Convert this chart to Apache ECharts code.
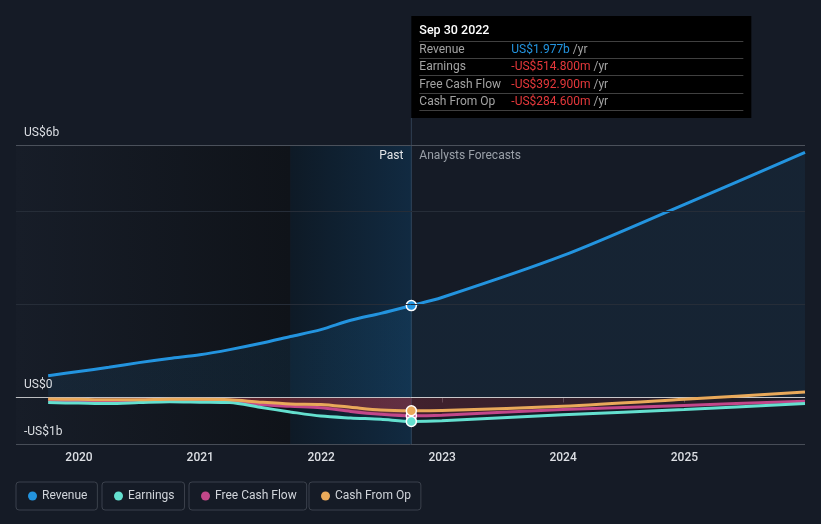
<!DOCTYPE html>
<html><head><meta charset="utf-8">
<script src="https://cdn.jsdelivr.net/npm/echarts@6/dist/echarts.min.js"></script>
<style>html,body{margin:0;padding:0;background:#151b26;}#c{width:821px;height:524px;}</style>
</head><body><div id="c"></div>
<script>
// ---------- data (US$ billions) ----------
const pastDates = ['2019-09-30','2019-12-31','2020-03-31','2020-06-30','2020-09-30','2020-12-31','2021-03-31','2021-06-30','2021-09-30','2021-12-31','2022-03-31','2022-06-30','2022-09-30'];
const forecastDates = ['2022-12-31','2023-12-31','2024-12-31','2025-12-31'];
const revenuePast = [0.47,0.56,0.65,0.75,0.84,0.92,1.03,1.16,1.31,1.46,1.66,1.81,1.977];
const revenueForecast = [2.15,3.05,4.15,5.27];
const earningsPast = [-0.11,-0.12,-0.13,-0.11,-0.09,-0.10,-0.11,-0.21,-0.31,-0.40,-0.44,-0.47,-0.5148];
const earningsForecast = [-0.50,-0.37,-0.26,-0.13];
const fcfPast = [-0.06,-0.07,-0.07,-0.06,-0.05,-0.07,-0.08,-0.15,-0.19,-0.22,-0.30,-0.36,-0.3929];
const fcfForecast = [-0.38,-0.26,-0.17,-0.08];
const cfoPast = [-0.03,-0.04,-0.05,-0.05,-0.04,-0.04,-0.05,-0.10,-0.14,-0.15,-0.21,-0.27,-0.2846];
const cfoForecast = [-0.28,-0.19,-0.04,0.12];
const seriesNames = ['Revenue','Earnings','Free Cash Flow','Cash From Op'];
const seriesColors = ['#2394df','#64e0cf','#c2478a','#e9a95a'];
const yLabelTop = 'US$6b', yLabelZero = 'US$0', yLabelBottom = '-US$1b';
const tooltipTitle = 'Sep 30 2022';
const bandStart = '2021-09-30';
const xMin = '2019-06-25', xMax = '2025-12-31';
const yMin = -1, yMax = 5.43;
const gridValues = [2, 4];

// ---------- helpers ----------
const splitDate = pastDates[pastDates.length - 1];
const tFirst = +new Date(pastDates[0]);
const tLast = +new Date(forecastDates[forecastDates.length - 1]);
const frac = (+new Date(splitDate) - tFirst) / (tLast - tFirst);
function build(past, fc, color) {
  const d = past.map((v, i) => {
    const item = { value: [pastDates[i], v] };
    if (i === past.length - 1) {
      item.symbol = 'circle'; item.symbolSize = 10;
      item.itemStyle = { color: color, borderColor: '#ffffff', borderWidth: 1.5 };
    }
    return item;
  });
  return d.concat(fc.map((v, i) => ({ value: [forecastDates[i], v] })));
}
function fmt(v) {
  const s = v < 0 ? '-' : '';
  const a = Math.abs(v);
  return a >= 1 ? s + 'US$' + a.toFixed(3) + 'b' : s + 'US$' + (a * 1000).toFixed(3) + 'm';
}
function hgrad(stops) {
  return new echarts.graphic.LinearGradient(0, 0, 1, 0, stops.map(s => ({ offset: s[0], color: s[1] })));
}

const chart = echarts.init(document.getElementById('c'), null, { renderer: 'canvas' });
const lineSeries = [
  [revenuePast, revenueForecast], [earningsPast, earningsForecast], [fcfPast, fcfForecast], [cfoPast, cfoForecast]
].map((p, k) => {
  const s = {
    name: seriesNames[k], type: 'line', z: k === 0 ? 3 : (k === 2 ? 4 : 5),
    data: build(p[0], p[1], seriesColors[k]),
    smooth: 0.3, symbol: 'none', showSymbol: true, showAllSymbol: true,
    color: seriesColors[k],
    lineStyle: { width: 3, color: seriesColors[k] },
    emphasis: { disabled: true }, silent: true, animation: false
  };
  if (k === 0) s.areaStyle = { color: hgrad([[0,'rgba(35,148,223,0.12)'],[frac,'rgba(35,148,223,0.15)'],[frac,'rgba(35,148,223,0.10)'],[1,'rgba(35,148,223,0.10)']]) };
  if (k === 2) s.areaStyle = { color: hgrad([[0,'rgba(205,55,70,0.5)'],[frac,'rgba(205,55,70,0.62)'],[frac,'rgba(195,50,65,0.36)'],[1,'rgba(195,50,65,0.05)']]) };
  return s;
});

const mlLabel = (txt) => ({ show: true, formatter: txt, position: 'insideStartTop', distance: [8, 6], color: '#dcdfe4', fontSize: 12 });
const bgSeries = {
  name: 'bg', type: 'line', z: 0, data: [[xMin, 0]], symbol: 'none', lineStyle: { opacity: 0 }, silent: true, animation: false,
  markArea: {
    silent: true,
    data: [
      [{ xAxis: xMin, itemStyle: { color: hgrad([[0,'#171d28'],[1,'#0f1319']]) } }, { xAxis: bandStart }],
      [{ xAxis: bandStart, itemStyle: { color: hgrad([[0,'#0e1a26'],[1,'#112a41']]) } }, { xAxis: splitDate }]
    ]
  },
  markLine: {
    silent: true, symbol: 'none', animation: false,
    data: [
      ...gridValues.map(v => ({ yAxis: v, lineStyle: { color: '#262d38', width: 1, type: 'solid' }, label: { show: false } })),
      { yAxis: yMax, lineStyle: { color: '#4b515b', width: 1, type: 'solid' }, label: mlLabel(yLabelTop) },
      { yAxis: 0, lineStyle: { color: 'rgba(230,230,230,0.8)', width: 1, type: 'solid' }, label: mlLabel(yLabelZero) },
      { yAxis: yMin, lineStyle: { color: '#474d57', width: 1, type: 'solid' }, label: mlLabel(yLabelBottom) }
    ]
  }
};

const legendLefts = [16, 102, 189, 309];
const legends = seriesNames.map((n, i) => ({
  data: [n], left: legendLefts[i], top: 482, icon: 'circle', itemWidth: 9, itemHeight: 9,
  padding: [8, 10, 8, 12], borderColor: '#3b414c', borderWidth: 1, borderRadius: 3,
  textStyle: { color: '#d0d4da', fontSize: 12, fontFamily: 'Roboto', lineHeight: 12 }, selectedMode: false
}));

chart.setOption({
  backgroundColor: '#151b26',
  animation: false,
  textStyle: { fontFamily: 'Roboto, sans-serif' },
  grid: { left: 16, right: 16, top: 145, bottom: 80 },
  legend: legends,
  xAxis: {
    type: 'time', min: xMin, max: xMax,
    minInterval: 365 * 86400000, maxInterval: 366 * 86400000,
    axisLine: { show: true, lineStyle: { color: '#474d57' } },
    axisTick: { show: true, length: 5, lineStyle: { color: '#474d57' } },
    axisLabel: { color: '#dcdfe4', fontSize: 12, fontWeight: 500, margin: 8, formatter: '{yyyy}', showMinLabel: false, showMaxLabel: false },
    splitLine: { show: false }
  },
  yAxis: { type: 'value', min: yMin, max: yMax, axisLine: { show: false }, axisTick: { show: false }, axisLabel: { show: false }, splitLine: { show: false } },
  series: [bgSeries].concat(lineSeries)
});

// annotations positioned from the axes
const pTop = chart.convertToPixel({ xAxisIndex: 0, yAxisIndex: 0 }, [splitDate, yMax]);
const pBot = chart.convertToPixel({ xAxisIndex: 0, yAxisIndex: 0 }, [splitDate, yMin]);
const dx = pTop[0];
const boxTop = 16, boxH = 102, boxW = 340;
const rows = [
  [seriesNames[0], revenuePast[revenuePast.length - 1]],
  [seriesNames[1], earningsPast[earningsPast.length - 1]],
  [seriesNames[2], fcfPast[fcfPast.length - 1]],
  [seriesNames[3], cfoPast[cfoPast.length - 1]]
];
const g = [
  { type: 'line', shape: { x1: dx, y1: boxTop + boxH, x2: dx, y2: pBot[1] }, style: { stroke: 'rgba(120,160,200,0.28)', lineWidth: 1 }, z: 1, silent: true },
  { type: 'rect', shape: { x: dx, y: boxTop, width: boxW, height: boxH }, style: { fill: '#000000' }, z: 10, silent: true },
  { type: 'text', x: dx + 8, y: 31, style: { text: tooltipTitle, fill: '#ffffff', fontSize: 12.5, fontWeight: 500, fontFamily: 'Roboto', verticalAlign: 'middle' }, z: 11, silent: true },
  { type: 'text', x: dx - 8, y: 156, style: { text: 'Past', fill: '#e3e5e8', fontSize: 12, fontFamily: 'Roboto', align: 'right', verticalAlign: 'middle' }, z: 11, silent: true },
  { type: 'text', x: dx + 8, y: 156, style: { text: 'Analysts Forecasts', fill: '#9aa0a8', fontSize: 12, fontFamily: 'Roboto', verticalAlign: 'middle' }, z: 11, silent: true }
];
const sepY = [41.5, 58.5, 75.5, 93.5, 110.5];
sepY.forEach(y => g.push({ type: 'line', shape: { x1: dx + 8, y1: y, x2: dx + boxW - 8, y2: y }, style: { stroke: '#404040', lineWidth: 1 }, z: 11, silent: true }));
rows.forEach((r, i) => {
  const cy = (sepY[i] + sepY[i + 1]) / 2;
  g.push({ type: 'text', x: dx + 8, y: cy, style: { text: r[0], fill: '#a3a3a3', fontSize: 12, fontFamily: 'Roboto', verticalAlign: 'middle' }, z: 11, silent: true });
  g.push({ type: 'text', x: dx + 100, y: cy, style: {
    text: '{v|' + fmt(r[1]) + '} {u|/yr}', verticalAlign: 'middle', fontFamily: 'Roboto', fontSize: 12,
    rich: { v: { fill: i === 0 ? '#2394df' : '#e5383b', fontSize: 12, fontFamily: 'Roboto' }, u: { fill: '#a3a3a3', fontSize: 12, fontFamily: 'Roboto' } }
  }, z: 11, silent: true });
});
chart.setOption({ graphic: g });
</script>
</body></html>
